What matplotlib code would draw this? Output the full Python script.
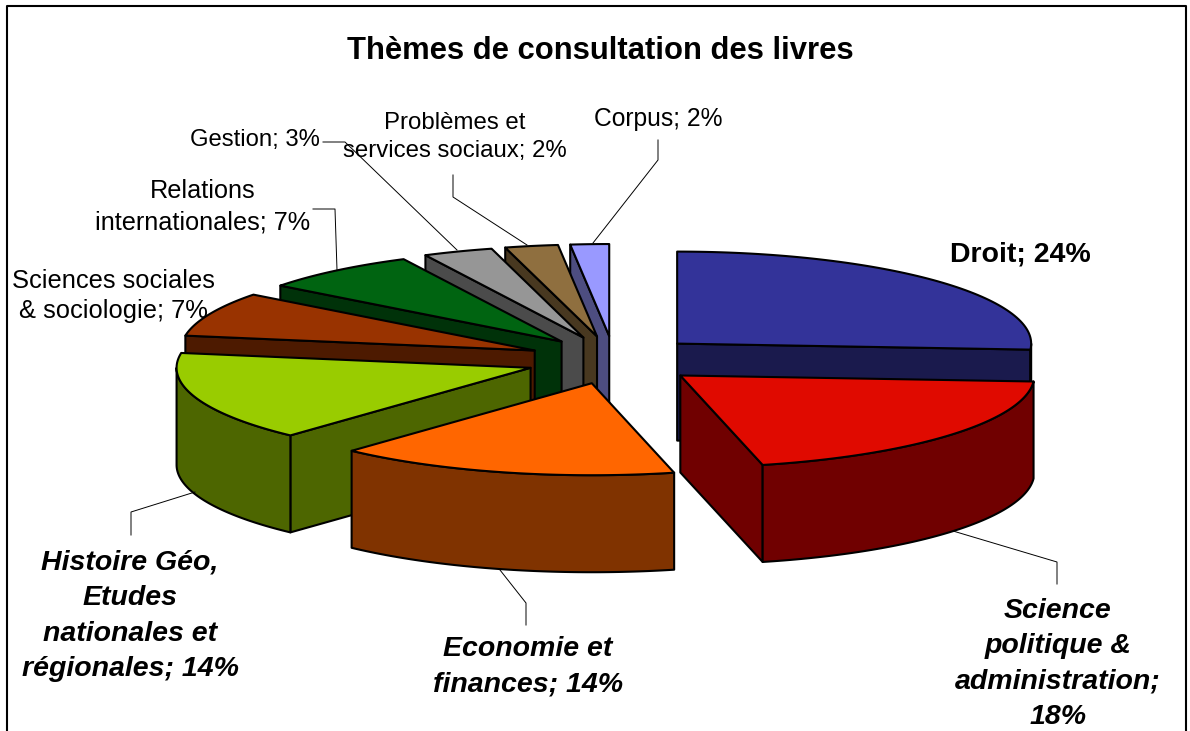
"""Camembert 3D éclaté : thèmes de consultation des livres."""
import numpy as np
import matplotlib
matplotlib.use("Agg")
import matplotlib.pyplot as plt

plt.rcParams["font.family"] = ["Liberation Sans", "DejaVu Sans"]

title = "Thèmes de consultation des livres"
categories = ["Droit;", "Science\npolitique &\nadministration;\n", "Economie et\nfinances;",
              "Histoire Géo,\nEtudes\nnationales et\nrégionales;", "Sciences sociales\n& sociologie;",
              "Relations\ninternationales;", "Gestion;", "Problèmes et\nservices sociaux;", "Corpus;"]
# valeurs lues sur les angles du dessin (le total affiché ne fait pas 100)
values = [23.7, 18.4, 14.2, 14.3, 7.1, 6.6, 2.9, 2.2, 1.6]

top_colors = ["#333399", "#E00A00", "#FF6600", "#99CC00", "#993300", "#006411", "#969696", "#8F6F3F", "#9999FF"]
wall_colors = ["#1A1A4D", "#700000", "#803300", "#4D6600", "#4D1A00", "#003209", "#4B4B4B", "#483820", "#4D4D80"]

# géométrie de l'ellipse, en pixels
CX, CY = 610, 360
A, B, H = 354, 92, 97
explode_x = [92, 92, 72, 84, 82, 76, 75, 70, 14]
EXPLODE_Y = 24
draw_order = [8, 7, 6, 5, 4, 3, 0, 1, 2]

label_style = [
    (1020, 254, "bold", "normal", 20.5, 1.3),
    (1058, 664, "bold", "italic", 20.5, 1.47),
    (528, 667, "bold", "italic", 20.5, 1.47),
    (130, 616, "bold", "italic", 20.5, 1.47),
    (113, 296, "normal", "normal", 18.4, 1.35),
    (203, 207, "normal", "normal", 18.2, 1.42),
    (255, 140, "normal", "normal", 17.2, 1.3),
    (455, 137, "normal", "normal", 17.3, 1.4),
    (658, 119, "normal", "normal", 17.7, 1.3),
]
leaders = [
    None,
    ([953, 1057, 1057], [531, 562, 584]),
    ([500, 526, 526], [570, 603, 625]),
    ([195, 131, 131], [492, 512, 535]),
    None,
    ([313, 335, 337], [209, 209, 270]),
    ([323, 345, 457], [142, 142, 250]),
    ([453, 453, 527], [175, 197, 245]),
    ([658, 658, 593], [140, 160, 243]),
]


def arc(x0, y0, t0, t1):
    t = np.radians(np.linspace(t0, t1, 80))
    return x0 + A * np.sin(t), y0 - B * np.cos(t)


def draw_slice(ax, i, edges):
    t0, t1 = edges[i], edges[i + 1]
    mid = np.radians((t0 + t1) / 2)
    x0 = CX + explode_x[i] * np.sin(mid)
    y0 = CY - EXPLODE_Y * np.cos(mid)
    kw = dict(edgecolor="black", linewidth=1.5, joinstyle="round")

    # parois radiales visibles, puis paroi extérieure, puis le dessus
    for t, seen in ((t0, t0 >= 180), (t1, t1 <= 180)):
        if seen:
            xe, ye = arc(x0, y0, t, t)
            ax.fill([x0, xe[0], xe[0], x0], [y0, ye[0], ye[0] + H, y0 + H], color=wall_colors[i], **kw)
    lo, hi = max(t0, 90), min(t1, 270)
    if lo < hi:
        xa, ya = arc(x0, y0, lo, hi)
        ax.fill(np.r_[xa, xa[::-1]], np.r_[ya, ya[::-1] + H], color=wall_colors[i], **kw)
    xa, ya = arc(x0, y0, t0, t1)
    ax.fill(np.r_[x0, xa], np.r_[y0, ya], color=top_colors[i], **kw)


def main():
    fig = plt.figure(figsize=(11.9, 7.31), dpi=100)
    ax = fig.add_axes([0, 0, 1, 1])
    ax.set_xlim(0, 1190)
    ax.set_ylim(731, 0)
    ax.axis("off")

    # cadre ouvert en bas
    ax.plot([7, 7, 1186, 1186], [731, 6, 6, 731], color="black", lw=1.5)
    ax.text(600, 51, title, ha="center", va="center", fontsize=22.3, fontweight="bold")

    edges = np.r_[0, np.cumsum(values)] / sum(values) * 360
    for lead in leaders:
        if lead:
            ax.plot(lead[0], lead[1], color="black", lw=0.7)
    for i in draw_order:
        draw_slice(ax, i, edges)

    for cat, v, (x, y, weight, style, size, spacing) in zip(categories, values, label_style):
        sep = "" if cat.endswith("\n") else " "
        ax.text(x, y, f"{cat}{sep}{v:.0f}%", ha="center", va="center", multialignment="center",
                fontsize=size, fontweight=weight, fontstyle=style, linespacing=spacing)

    fig.savefig("out.png", dpi=100)


if __name__ == "__main__":
    main()
